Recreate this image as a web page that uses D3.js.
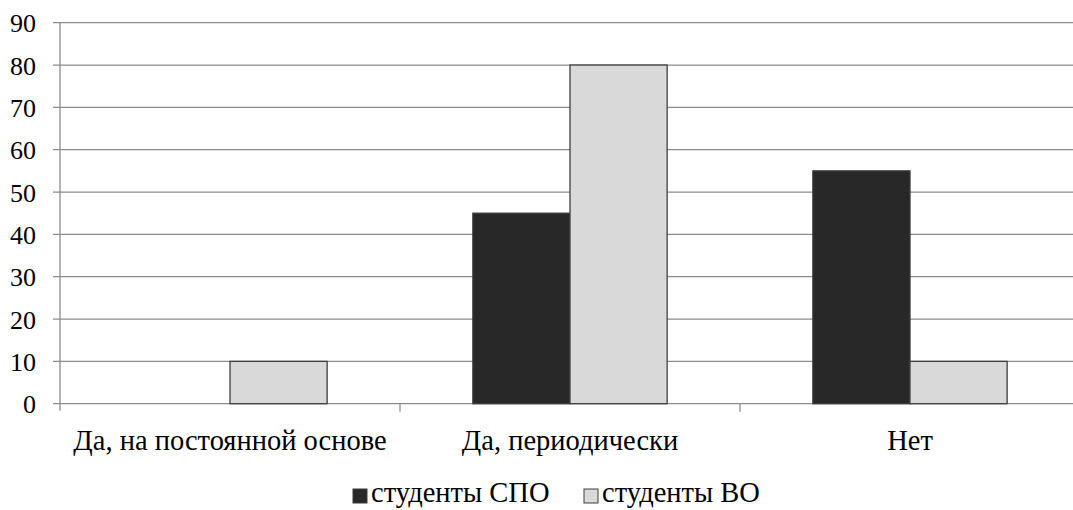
<!DOCTYPE html>
<html><head><meta charset="utf-8">
<script src="https://cdn.jsdelivr.net/npm/d3@7"></script>
<style>
body{margin:0;background:#fff}svg{display:block}
svg text{font-family:"Liberation Serif","Times New Roman","DejaVu Serif",serif !important;fill:#000}
</style>
</head><body><svg id="c" width="1073" height="510"></svg>
<script>
const categories = ["Да, на постоянной основе", "Да, периодически", "Нет"];
const seriesNames = ["студенты СПО", "студенты ВО"];
const spo = [0, 45, 55];
const vo = [10, 80, 10];
const yTicks = [0, 10, 20, 30, 40, 50, 60, 70, 80, 90];

const svg = d3.select("#c");
const x0 = 60, x1 = 1080, yTop = 22.7, yBot = 403.7;
const x = d3.scaleBand().domain(categories).range([x0, x1]).paddingInner(0).paddingOuter(0);
const xs = d3.scaleBand().domain(seriesNames).range([0, x.bandwidth()]).paddingInner(0).paddingOuter(0.75);
const y = d3.scaleLinear().domain([0, 90]).range([yBot, yTop]);
const colors = {"студенты СПО": "#282828", "студенты ВО": "#d9d9d9"};
const strokes = {"студенты СПО": "#3a3a3a", "студенты ВО": "#404040"};

// gridlines
svg.append("g").selectAll("line").data(yTicks).join("line")
  .attr("x1", x0 - 7).attr("x2", x1)
  .attr("y1", d => y(d)).attr("y2", d => y(d))
  .attr("stroke", "#8c8c8c").attr("stroke-width", 1.3);

// y axis
const yAxis = d3.axisLeft(y).tickValues(yTicks).tickSize(0).tickPadding(0);
const gy = svg.append("g").attr("transform", `translate(${x0},0)`).call(yAxis);
gy.attr("font-family", null).attr("font-size", null);
gy.select(".domain").remove();
gy.selectAll("text").attr("x", -24).attr("dy", "0.35em").style("font-size", "26px");
svg.append("line").attr("x1", x0).attr("x2", x0).attr("y1", yTop).attr("y2", yBot + 7)
  .attr("stroke", "#8c8c8c").attr("stroke-width", 1.3);

// x axis ticks
const gx = svg.append("g").attr("transform", `translate(0,${yBot})`);
gx.selectAll("line").data(categories.slice(1)).join("line")
  .attr("x1", d => x(d)).attr("x2", d => x(d)).attr("y1", 0).attr("y2", 8)
  .attr("stroke", "#8c8c8c").attr("stroke-width", 1.3);
gx.selectAll("text").data(categories).join("text")
  .attr("x", d => x(d) + x.bandwidth() / 2).attr("y", 46)
  .attr("text-anchor", "middle").style("font-size", "28.5px").text(d => d);

// bars
const rows = categories.map((c, i) => ({cat: c, vals: [{s: seriesNames[0], v: spo[i]}, {s: seriesNames[1], v: vo[i]}]}));
const g = svg.append("g");
rows.forEach(r => {
  g.selectAll(null).data(r.vals.filter(d => d.v > 0)).join("rect")
    .attr("x", d => x(r.cat) + xs(d.s))
    .attr("width", xs.bandwidth())
    .attr("y", d => y(d.v))
    .attr("height", d => y(0) - y(d.v))
    .attr("fill", d => colors[d.s])
    .attr("stroke", d => strokes[d.s]).attr("stroke-width", 1.3);
});

// legend
const leg = svg.append("g");
const legX = [353, 584];
seriesNames.forEach((s, i) => {
  leg.append("rect").attr("x", legX[i]).attr("y", 489).attr("width", 14).attr("height", 14)
    .attr("fill", colors[s]).attr("stroke", strokes[s]).attr("stroke-width", 1);
  leg.append("text").attr("x", legX[i] + 18).attr("y", 502).style("font-size", "28.5px").text(s);
});
</script></body></html>
